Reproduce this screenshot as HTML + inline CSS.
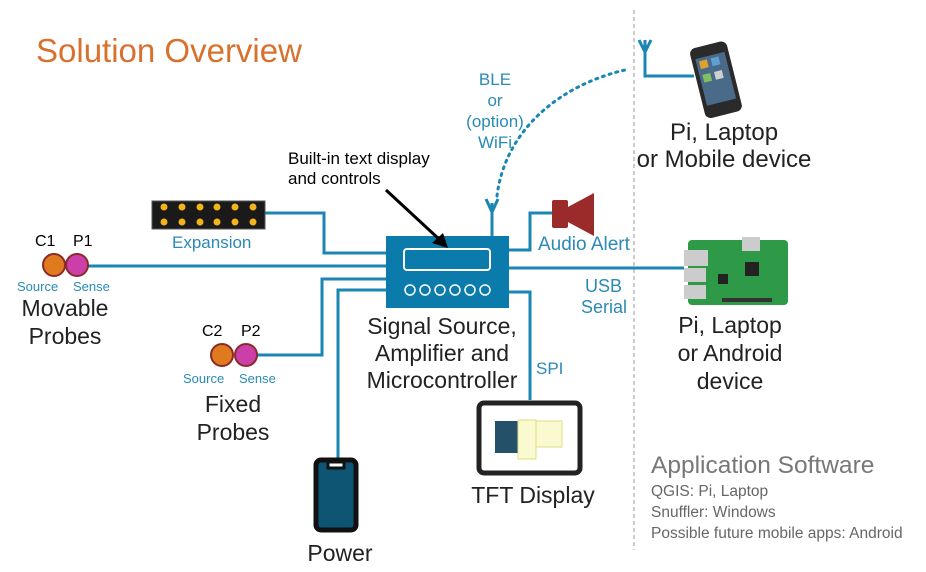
<!DOCTYPE html>
<html><head><style>
body{margin:0;background:#fff;}
svg{display:block;font-family:"Liberation Sans",sans-serif;}
</style></head><body>
<svg width="926" height="572" viewBox="0 0 926 572" xmlns="http://www.w3.org/2000/svg">
<rect width="926" height="572" fill="#fff"/>
<text x="36" y="62" font-size="33" fill="#d9712e">Solution Overview</text>
<line x1="634" y1="10" x2="634" y2="550" stroke="#aaa" stroke-width="1.2" stroke-dasharray="4,3"/>
<g stroke="#1b86b3" stroke-width="3" fill="none">
<polyline points="265,213 324,213 324,253 386,253"/>
<line x1="86" y1="266" x2="386" y2="266"/>
<polyline points="386,279 322,279 322,355 256,355"/>
<polyline points="386,290 338,290 338,462"/>
<polyline points="509,250 530,250 530,213 552,213"/>
<line x1="509" y1="268" x2="684" y2="268"/>
<polyline points="509,292 530,292 530,400"/>
<line x1="492" y1="236" x2="492" y2="203"/>
<polyline points="486,199 492,212 498,199"/>
<polyline points="645,40 645,76 694,76"/>
<polyline points="639,40 645,52 651,40"/>
<path d="M497,196 C505,130 560,85 625,70" stroke-dasharray="2,5" stroke-linecap="round"/>
</g>
<rect x="386" y="236" width="123" height="72" fill="#0b7bab"/>
<rect x="404" y="249" width="86" height="21" rx="3" fill="none" stroke="#fff" stroke-width="2"/>
<g fill="none" stroke="#fff" stroke-width="1.5">
<circle cx="410" cy="290" r="5"/><circle cx="425" cy="290" r="5"/><circle cx="440" cy="290" r="5"/><circle cx="455" cy="290" r="5"/><circle cx="470" cy="290" r="5"/><circle cx="485" cy="290" r="5"/>
</g>
<line x1="386" y1="190" x2="440" y2="240" stroke="#000" stroke-width="3"/>
<polygon points="448,248 432,243 443,233" fill="#000"/>
<text x="288" y="164" font-size="17" fill="#000">Built-in text display</text>
<text x="288" y="184" font-size="17" fill="#000">and controls</text>
<rect x="152" y="201" width="113" height="28" fill="#1a1a1a" stroke="#555"/>
<g fill="#f2b31c">
<circle cx="164" cy="207" r="3.5"/><circle cx="182" cy="207" r="3.5"/><circle cx="200" cy="207" r="3.5"/><circle cx="217" cy="207" r="3.5"/><circle cx="235" cy="207" r="3.5"/><circle cx="253" cy="207" r="3.5"/>
<circle cx="164" cy="222" r="3.5"/><circle cx="182" cy="222" r="3.5"/><circle cx="200" cy="222" r="3.5"/><circle cx="217" cy="222" r="3.5"/><circle cx="235" cy="222" r="3.5"/><circle cx="253" cy="222" r="3.5"/>
</g>
<text x="172" y="248" font-size="17" fill="#2a8ab5">Expansion</text>
<circle cx="54" cy="265" r="11" fill="#e07a1f" stroke="#8a2a2a" stroke-width="2"/>
<circle cx="77" cy="265" r="11" fill="#cc3fa8" stroke="#8a2a2a" stroke-width="2"/>
<text x="35" y="246" font-size="16" fill="#000">C1</text><text x="73" y="246" font-size="16" fill="#000">P1</text>
<text x="17" y="291" font-size="13" fill="#2a8ab5">Source</text><text x="73" y="291" font-size="13" fill="#2a8ab5">Sense</text>
<text x="65" y="316" font-size="23" fill="#222" text-anchor="middle">Movable</text>
<text x="65" y="344" font-size="23" fill="#222" text-anchor="middle">Probes</text>
<circle cx="222" cy="355" r="11" fill="#e07a1f" stroke="#8a2a2a" stroke-width="2"/>
<circle cx="246" cy="355" r="11" fill="#cc3fa8" stroke="#8a2a2a" stroke-width="2"/>
<text x="202" y="336" font-size="16" fill="#000">C2</text><text x="241" y="336" font-size="16" fill="#000">P2</text>
<text x="183" y="383" font-size="13" fill="#2a8ab5">Source</text><text x="239" y="383" font-size="13" fill="#2a8ab5">Sense</text>
<text x="233" y="412" font-size="23" fill="#222" text-anchor="middle">Fixed</text>
<text x="233" y="440" font-size="23" fill="#222" text-anchor="middle">Probes</text>
<text x="442" y="334" font-size="23" fill="#222" text-anchor="middle">Signal Source,</text>
<text x="442" y="361" font-size="23" fill="#222" text-anchor="middle">Amplifier and</text>
<text x="442" y="388" font-size="23" fill="#222" text-anchor="middle">Microcontroller</text>
<rect x="552" y="200" width="16" height="28" rx="2" fill="#9b2a2a"/>
<polygon points="566,208 594,193 594,236 566,221" fill="#9b2a2a"/>
<text x="538" y="250" font-size="19" fill="#2a8ab5">Audio Alert</text>
<text x="585" y="292" font-size="18" fill="#2a8ab5">USB</text>
<text x="581" y="313" font-size="18" fill="#2a8ab5">Serial</text>
<text x="536" y="374" font-size="17" fill="#2a8ab5">SPI</text>
<text x="495" y="85" font-size="17" fill="#2a8ab5" text-anchor="middle">BLE</text>
<text x="495" y="106" font-size="17" fill="#2a8ab5" text-anchor="middle">or</text>
<text x="495" y="127" font-size="17" fill="#2a8ab5" text-anchor="middle">(option)</text>
<text x="495" y="148" font-size="17" fill="#2a8ab5" text-anchor="middle">WiFi</text>
<rect x="479" y="403" width="101" height="70" rx="5" fill="#fff" stroke="#222" stroke-width="5"/>
<rect x="495" y="421" width="24" height="32" fill="#24506a"/>
<rect x="518" y="420" width="18" height="39" fill="#fafad0" stroke="#dede80"/>
<rect x="536" y="421" width="26" height="26" fill="#fafad0" stroke="#dede80"/>
<text x="533" y="503" font-size="23" fill="#222" text-anchor="middle">TFT Display</text>
<rect x="316" y="460" width="40" height="70" rx="5" fill="#0d5573" stroke="#111" stroke-width="5"/>
<rect x="328" y="462" width="16" height="6" fill="#fff" stroke="#111" stroke-width="3"/>
<text x="340" y="561" font-size="23" fill="#222" text-anchor="middle">Power</text>
<g transform="rotate(-14 715 80)">
<rect x="697" y="44" width="38" height="72" rx="6" fill="#2a2a2a"/>
<rect x="701" y="55" width="30" height="48" fill="#4a6a8a"/>
<rect x="704" y="58" width="8" height="8" fill="#e0a030"/><rect x="716" y="58" width="8" height="8" fill="#60a0d0"/><rect x="704" y="72" width="8" height="8" fill="#80c060"/><rect x="716" y="72" width="8" height="8" fill="#d0d0d0"/>
</g>
<text x="724" y="140" font-size="24" fill="#222" text-anchor="middle">Pi, Laptop</text>
<text x="724" y="167" font-size="24" fill="#222" text-anchor="middle">or Mobile device</text>
<rect x="688" y="240" width="100" height="65" rx="4" fill="#2e9a48"/>
<rect x="684" y="250" width="24" height="16" fill="#ccc"/><rect x="684" y="268" width="22" height="14" fill="#ccc"/><rect x="684" y="285" width="22" height="14" fill="#ccc"/>
<rect x="742" y="237" width="18" height="14" fill="#ccc"/>
<rect x="745" y="262" width="14" height="14" fill="#222"/><rect x="718" y="274" width="10" height="10" fill="#222"/>
<rect x="722" y="298" width="50" height="4" fill="#333"/>
<text x="730" y="333" font-size="23" fill="#222" text-anchor="middle">Pi, Laptop</text>
<text x="730" y="361" font-size="23" fill="#222" text-anchor="middle">or Android</text>
<text x="730" y="389" font-size="23" fill="#222" text-anchor="middle">device</text>
<text x="651" y="473" font-size="24.5" fill="#777">Application Software</text>
<text x="651" y="496" font-size="15.5" fill="#666">QGIS: Pi, Laptop</text>
<text x="651" y="517" font-size="15.5" fill="#666">Snuffler: Windows</text>
<text x="651" y="538" font-size="15.5" fill="#666">Possible future mobile apps: Android</text>
</svg>
</body></html>
